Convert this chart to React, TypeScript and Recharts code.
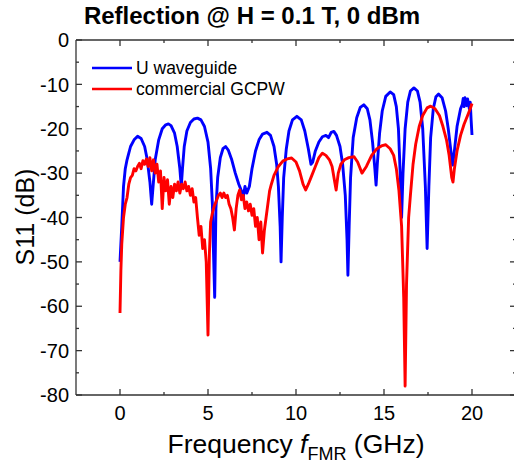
import React from 'react';
import { LineChart, Line, XAxis, YAxis } from 'recharts';

// U waveguide (blue)
const blueFreq = [
  0.0, 0.1, 0.2, 0.3, 0.4, 0.5, 0.6, 0.8, 1.0, 1.2, 1.4, 1.55, 1.7, 1.8, 1.9, 2.0, 2.2, 2.4, 2.6, 2.75,
  2.9, 3.1, 3.25, 3.4, 3.48, 3.55, 3.65, 3.8, 4.0, 4.2, 4.4, 4.6, 4.8, 5.0, 5.15, 5.25, 5.3, 5.38, 5.45, 5.55,
  5.7, 5.85, 6.0, 6.15, 6.35, 6.55, 6.75, 6.9, 7.0, 7.1, 7.2, 7.35, 7.5, 7.7, 7.9, 8.1, 8.35, 8.55, 8.75, 8.9,
  9.0, 9.1, 9.15, 9.22, 9.3, 9.45, 9.6, 9.8, 10.05, 10.3, 10.5, 10.7, 10.85, 10.95, 11.1, 11.3, 11.5, 11.7, 11.85, 12.0,
  12.15, 12.3, 12.5, 12.65, 12.8, 12.9, 12.95, 13.02, 13.1, 13.25, 13.45, 13.65, 13.85, 14.05, 14.2, 14.35, 14.48, 14.55, 14.62, 14.75,
  14.9, 15.1, 15.35, 15.55, 15.7, 15.82, 15.92, 16.0, 16.08, 16.2, 16.35, 16.5, 16.7, 16.9, 17.05, 17.2, 17.35, 17.45, 17.55, 17.65,
  17.8, 17.95, 18.1, 18.3, 18.5, 18.65, 18.8, 18.9, 19.0, 19.15, 19.35, 19.45, 19.5, 19.55, 19.6, 19.7, 19.75, 19.85, 19.9, 19.95, 20.0,
];
const blueS11 = [
  -50, -42, -33, -29, -27, -25.5, -24, -22.5, -21.7, -22.2, -24, -27, -32, -37, -32, -27, -22.5, -20, -19.1, -18.9,
  -19.3, -21, -24, -29, -33, -29, -24, -20.5, -18.6, -17.8, -17.6, -18, -19.5, -23, -29, -37, -46, -58, -38, -31,
  -26.5, -24.5, -24, -24.8, -27, -30, -32.5, -34, -35.5, -33, -34.5, -33, -29, -25, -22.5, -21.2, -20.8, -21.5, -24, -28,
  -33, -42, -50, -40, -31, -24.5, -20.5, -18, -17.2, -18, -20.5, -24.5, -28, -27.5, -25, -23, -21.8, -21.5, -22, -20.8,
  -20.6, -21.5, -24, -28, -35, -45, -53, -42, -31, -22, -17.5, -15.2, -14.6, -15.5, -18, -23, -29, -32.7, -28, -21,
  -16, -12.7, -11.7, -12.3, -15, -20, -30, -40, -30, -20, -14, -11.5, -10.8, -11.5, -14, -20, -33, -47, -33, -22,
  -15.5, -12.8, -12.2, -13, -16, -20, -25, -28.2, -25, -19.5, -15.5, -14.5, -13.2, -15, -13, -14.8, -13.3, -15.5, -14, -18, -21.4,
];

// commercial GCPW (red)
const redFreq = [
  0.0, 0.05, 0.1, 0.2, 0.3, 0.4, 0.5, 0.6, 0.7, 0.8, 0.9, 1.0, 1.1, 1.2, 1.3, 1.4, 1.5, 1.6, 1.7, 1.8,
  1.9, 2.0, 2.1, 2.2, 2.3, 2.4, 2.5, 2.6, 2.7, 2.8, 2.9, 3.0, 3.1, 3.2, 3.3, 3.4, 3.5, 3.6, 3.7, 3.8,
  3.9, 4.0, 4.1, 4.2, 4.3, 4.4, 4.5, 4.6, 4.7, 4.8, 4.9, 5.0, 5.08, 5.15, 5.25, 5.35, 5.5, 5.6, 5.7, 5.8,
  5.9, 6.0, 6.1, 6.2, 6.3, 6.4, 6.5, 6.6, 6.7, 6.8, 6.9, 7.0, 7.1, 7.2, 7.3, 7.4, 7.5, 7.6, 7.7, 7.8,
  7.9, 8.0, 8.1, 8.2, 8.3, 8.4, 8.5, 8.6, 8.75, 9.0, 9.25, 9.5, 9.75, 10.0, 10.2, 10.4, 10.55, 10.7, 10.9, 11.1,
  11.3, 11.5, 11.7, 11.9, 12.05, 12.2, 12.28, 12.4, 12.55, 12.75, 13.0, 13.3, 13.5, 13.75, 14.0, 14.3, 14.6, 14.9, 15.1, 15.35,
  15.55, 15.7, 15.85, 16.0, 16.12, 16.2, 16.28, 16.4, 16.5, 16.65, 16.8, 17.0, 17.2, 17.45, 17.65, 17.9, 18.15, 18.35, 18.55, 18.7,
  18.85, 18.92, 19.0, 19.15, 19.35, 19.55, 19.75, 19.9, 20.0,
];
const redS11 = [
  -61.5, -52, -46, -40, -37, -35.5, -32.5, -31, -30.5, -29, -29.5, -28.5, -27.8, -29, -27.2, -28, -26.8, -28.5, -26.5, -29.5,
  -27, -30, -28, -32, -29.5, -38, -31, -34, -31.5, -37, -33, -35.5, -32.5, -34, -32, -34.5, -32.5, -33.5, -32, -34,
  -33, -35, -33.5, -36.5, -35.5, -40, -44, -42, -47, -45, -50, -66.5, -48, -41, -39, -37.5, -36, -35, -34.5, -35.5,
  -34.5, -35.5, -35, -37, -38, -40, -42.8, -38, -35, -33.8, -36, -35, -38, -36.5, -38.5, -37, -39.5, -38, -42, -40,
  -45, -41, -48, -43, -40, -37, -34, -32.5, -30.5, -28.5, -27.3, -26.8, -26.6, -27.5, -29.5, -32.5, -33.8, -32.5, -30.5, -28.5,
  -26.5, -25.5, -26, -27, -28.5, -32, -33.8, -30, -28, -27, -26.5, -26.3, -27.5, -30, -28.5, -26, -24.5, -23.8, -23.6, -24.5,
  -26, -29, -34, -42, -58, -78, -55, -40, -35, -28, -23.5, -19.5, -17, -15.3, -14.9, -15.5, -17, -19.5, -22.5, -26,
  -31, -32, -29, -25, -21.5, -19, -17, -15.5, -14.3,
];

const xTicks = [0, 2.5, 5, 7.5, 10, 12.5, 15, 17.5, 20];
const yTicks = [-80, -75, -70, -65, -60, -55, -50, -45, -40, -35, -30, -25, -20, -15, -10, -5, 0];

const blueData = blueFreq.map((f, i) => ({ f, v: blueS11[i] }));
const redData = redFreq.map((f, i) => ({ f, v: redS11[i] }));

const PLOT = { left: 76, right: 516, top: 40, bottom: 395 };
const FONT = '"Liberation Sans", Arial, sans-serif';
const AXIS = '#333';
const AW = 1.3;

const BottomTick = (p: any) => {
  const v = p.payload.value;
  const major = v % 5 === 0;
  return (
    <g>
      <line x1={p.x} x2={p.x} y1={PLOT.bottom} y2={PLOT.bottom - (major ? 6 : 3)} stroke={AXIS} strokeWidth={AW} />
      {major && (
        <text x={p.x} y={420} textAnchor="middle" fontSize={20} fontFamily={FONT} fill="#000">
          {v}
        </text>
      )}
    </g>
  );
};

const TopTick = (p: any) => {
  const v = p.payload.value;
  const major = v % 5 === 0;
  return <line x1={p.x} x2={p.x} y1={PLOT.top} y2={PLOT.top + (major ? 6 : 3)} stroke={AXIS} strokeWidth={AW} />;
};

const LeftTick = (p: any) => {
  const v = p.payload.value;
  const major = v % 10 === 0;
  return (
    <g>
      <line x1={PLOT.left} x2={PLOT.left + (major ? 6 : 3)} y1={p.y} y2={p.y} stroke={AXIS} strokeWidth={AW} />
      {major && (
        <text x={69} y={p.y} dy="0.36em" textAnchor="end" fontSize={20} fontFamily={FONT} fill="#000">
          {v}
        </text>
      )}
    </g>
  );
};

const RightTick = (p: any) => {
  const v = p.payload.value;
  const major = v % 10 === 0;
  return <line x1={PLOT.right} x2={PLOT.right - (major ? 6 : 3)} y1={p.y} y2={p.y} stroke={AXIS} strokeWidth={AW} />;
};

export default function App() {
  return (
    <div style={{ position: 'absolute', left: 0, top: 0, width: 514, height: 466, overflow: 'hidden', background: '#fff' }}>
      <LineChart width={520} height={466} margin={{ top: 39, right: 3, bottom: 41, left: 26 }}>
        <XAxis
          xAxisId="b"
          type="number"
          dataKey="f"
          domain={[-2.5, 22.5]}
          ticks={xTicks}
          interval={0}
          tick={BottomTick}
          tickLine={false}
          axisLine={{ stroke: AXIS, strokeWidth: AW }}
          height={30}
          allowDataOverflow
        />
        <XAxis
          xAxisId="t"
          orientation="top"
          type="number"
          dataKey="f"
          domain={[-2.5, 22.5]}
          ticks={xTicks}
          interval={0}
          tick={TopTick}
          tickLine={false}
          axisLine={{ stroke: AXIS, strokeWidth: AW }}
          height={1}
          allowDataOverflow
        />
        <YAxis
          yAxisId="l"
          type="number"
          domain={[-80, 0]}
          ticks={yTicks}
          interval={0}
          tick={LeftTick}
          tickLine={false}
          axisLine={{ stroke: AXIS, strokeWidth: AW }}
          width={50}
          allowDataOverflow
        />
        <YAxis
          yAxisId="r"
          orientation="right"
          type="number"
          domain={[-80, 0]}
          ticks={yTicks}
          interval={0}
          tick={RightTick}
          tickLine={false}
          axisLine={{ stroke: AXIS, strokeWidth: AW }}
          width={1}
          allowDataOverflow
        />
        <Line
          xAxisId="b"
          yAxisId="l"
          data={blueData}
          dataKey="v"
          type="linear"
          stroke="#0000ff"
          strokeWidth={2.9}
          strokeLinejoin="round"
          dot={false}
          activeDot={false}
          isAnimationActive={false}
          name="U waveguide"
        />
        <Line
          xAxisId="b"
          yAxisId="l"
          data={redData}
          dataKey="v"
          type="linear"
          stroke="#ff0000"
          strokeWidth={2.9}
          strokeLinejoin="round"
          dot={false}
          activeDot={false}
          isAnimationActive={false}
          name="commercial GCPW"
        />
      </LineChart>
      <svg
        width={514}
        height={466}
        style={{ position: 'absolute', left: 0, top: 0, pointerEvents: 'none' }}
      >
        <text x={252} y={24} textAnchor="middle" fontSize={24} fontWeight="bold" fontFamily={FONT} fill="#000">
          Reflection @ H = 0.1 T, 0 dBm
        </text>
        <text
          x={34}
          y={217}
          transform="rotate(-90 34 217)"
          textAnchor="middle"
          fontSize={25}
          fontFamily={FONT}
          fill="#000"
        >
          S11 (dB)
        </text>
        <text x={296} y={453} textAnchor="middle" fontSize={26.5} fontFamily={FONT} fill="#000">
          Frequency <tspan fontStyle="italic">f</tspan>
          <tspan fontSize={18} dy={7}>FMR</tspan>
          <tspan dy={-7}> (GHz)</tspan>
        </text>
        <line x1={92} x2={132} y1={68} y2={68} stroke="#0000ff" strokeWidth={2.6} />
        <text x={136} y={74} fontSize={17.5} fontFamily={FONT} fill="#000">U waveguide</text>
        <line x1={92} x2={132} y1={89} y2={89} stroke="#ff0000" strokeWidth={2.6} />
        <text x={136} y={95} fontSize={17.5} fontFamily={FONT} fill="#000">commercial GCPW</text>
      </svg>
    </div>
  );
}
